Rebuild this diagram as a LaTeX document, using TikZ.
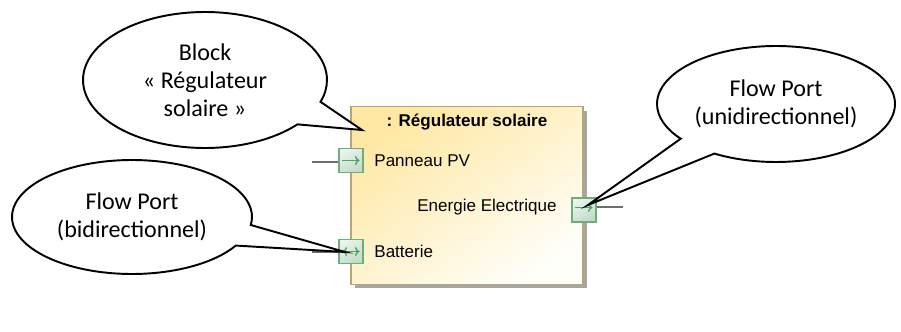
\documentclass[tikz,border=0pt]{standalone}
\usepackage{fontspec}
\setmainfont{Carlito}
\newfontfamily\umlfont{Liberation Sans}
\usetikzlibrary{shapes, shadows, positioning, arrows.meta}
\definecolor{blockTop}{HTML}{FFE8A4}
\definecolor{blockMid}{HTML}{FFF4D2}
\definecolor{blockBot}{HTML}{FFFEF8}
\definecolor{blockLine}{HTML}{B5A774}
\definecolor{portTop}{HTML}{EAF3EC}
\definecolor{portBot}{HTML}{C3DBC9}
\definecolor{portLine}{HTML}{6AAE7C}
\definecolor{portArrow}{HTML}{4FA266}
\definecolor{wireGray}{HTML}{6E6E6E}

\begin{document}
\begin{tikzpicture}[
  x=0.02cm, y=-0.02cm,
  note/.style={ellipse callout, draw, line width=1.1pt, fill=white, align=center, inner sep=0pt, callout pointer arc=22, font=\fontsize{13.7}{16}\selectfont},
  block/.style={rectangle, draw=blockLine, line width=0.9pt, top color=blockTop, middle color=blockMid, bottom color=blockBot, shading angle=35, minimum width=4.64cm, minimum height=3.56cm, inner sep=0pt, drop shadow={shadow xshift=0.08cm, shadow yshift=-0.08cm, fill=black!35, opacity=1}},
  port/.style={rectangle, draw=portLine, line width=0.6pt, top color=portTop, bottom color=portBot, shading angle=30, minimum size=0.48cm, inner sep=0pt},
  lbl/.style={font=\umlfont\fontsize{9.7}{11.6}\selectfont, inner sep=2pt},
  wire/.style={draw=wireGray, line width=0.8pt},
  parrow/.style={draw=portArrow, line width=0.8pt, -{To[length=2.6pt, width=5pt]}},
  pboth/.style={draw=portArrow, line width=0.8pt, {To[length=2.6pt, width=5pt]}-{To[length=2.6pt, width=5pt]}}]
\useasboundingbox (0,0) rectangle (901,331);
% the block and its ports
\node[block] (reg) at (467,195.5) {};
\node[lbl, font=\umlfont\bfseries\fontsize{9.7}{11.6}\selectfont] (title) at (467,122) {: Régulateur solaire};
\node[port] (pPV) at (351,160.5) {};
\node[port] (pBat) at (351,251.5) {};
\node[port] (pEE) at (584,210) {};
\node[lbl, anchor=west, right=0.14cm of pPV] (lPV) {Panneau PV};
\node[lbl, anchor=west, right=0.14cm of pBat] (lBat) {Batterie};
\node[lbl, anchor=east, left=0.22cm of pEE, yshift=0.06cm] (lEE) {Energie Electrique};
\coordinate (wPV) at (312,162);
\coordinate (wBat) at (312,252);
\coordinate (wEE) at (623,207);
\draw[wire] (wPV) -- (pPV.west |- wPV);
\draw[wire] (wBat) -- (pBat.west |- wBat);
\draw[wire] (pEE.east |- wEE) -- (wEE);
\draw[parrow] ([xshift=0.08cm]pPV.west) -- ([xshift=-0.08cm]pPV.east);
\draw[pboth] ([xshift=0.08cm]pBat.west) -- ([xshift=-0.08cm]pBat.east);
\draw[parrow] ([xshift=0.08cm, yshift=0.05cm]pEE.west) -- ([xshift=-0.08cm, yshift=0.05cm]pEE.east);
% the callouts
\coordinate (tipBlock) at (362,130);
\coordinate (tipBi) at (345,252);
\coordinate (tipUni) at (588,205);
\node[note, minimum width=4.88cm, minimum height=2.72cm, callout absolute pointer={(tipBlock)}] (nBlock) at (205,80) {Block\\« Régulateur\\solaire »};
\node[note, minimum width=4.8cm, minimum height=2.28cm, callout absolute pointer={(tipBi)}] (nBi) at (132,217) {Flow Port\\(bidirectionnel)};
\node[note, minimum width=4.76cm, minimum height=2.32cm, callout absolute pointer={(tipUni)}] (nUni) at (776,104) {Flow Port\\(unidirectionnel)};
\end{tikzpicture}
\end{document}
